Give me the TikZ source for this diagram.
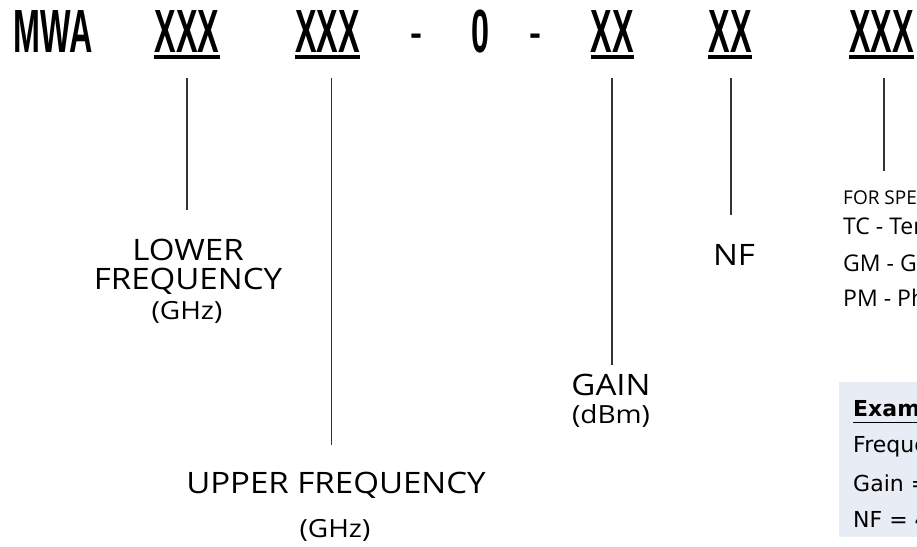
\documentclass[tikz,border=0pt]{standalone}
\usepackage{fontspec}
\setmainfont{Open Sans}
\newfontfamily\lblfont[FakeStretch=1.12]{Open Sans}
\newfontfamily\hdrfont[FakeStretch=0.53]{Liberation Sans Bold}
\newfontfamily\dashfont{Liberation Sans Bold}
\newfontfamily\boxfont{DejaVu Sans}
\definecolor{boxbg}{HTML}{E8ECF5}
\definecolor{linec}{HTML}{333333}
\begin{document}
\begin{tikzpicture}[x=1pt,y=-1pt,
  hdr/.style={font=\hdrfont\fontsize{61}{61}\selectfont, inner sep=0pt, anchor=base},
  hdash/.style={font=\dashfont\fontsize{36}{36}\selectfont, inner sep=0pt, anchor=base},
  uline/.style={line width=3.5pt, black},
  conn/.style={line width=1.3pt, linec},
  lbl/.style={font=\lblfont\fontsize{29.5}{29}\selectfont, inner sep=0pt, align=center},
  sub/.style={font=\lblfont\fontsize{25}{29}\selectfont, inner sep=0pt},
  opt/.style={font=\fontsize{23}{26}\selectfont, inner sep=0pt, anchor=west},
  ex/.style={font=\boxfont\fontsize{22}{24}\selectfont, inner sep=0pt, anchor=west}]
\useasboundingbox (0,0) rectangle (917,546);
\clip (0,0) rectangle (917,546);
% header
\node[hdr] (mwa) at (53.5,52) {MWA};
\node[hdr] (x1) at (187,52) {XXX};
\node[hdr] (x2) at (327.5,52) {XXX};
\node[hdash] (d1) at (416,45) {-};
\node[hdr] (zero) at (480.5,52) {0};
\node[hdash] (d2) at (535,45) {-};
\node[hdr] (x3) at (612.5,52) {XX};
\node[hdr] (x4) at (730,52) {XX};
\node[hdr] (x5) at (881.5,52) {XXX};
\foreach \n in {x1,x2,x3,x4,x5}
  \draw[uline] ([yshift=-5pt]\n.base west) -- ([yshift=-5pt]\n.base east);
% labels
\node[lbl] (lower) at (188,267) {LOWER\\FREQUENCY};
\node[sub] (lghz) at (187,312) {(GHz)};
\node[lbl] (upper) at (336,485) {UPPER FREQUENCY};
\node[sub] (ughz) at (335,530) {(GHz)};
\node[lbl] (gain) at (611,385) {GAIN};
\node[sub] (dbm) at (611,416) {(dBm)};
\node[lbl] (nf) at (734,255) {NF};
\node[font=\fontsize{19}{22}\selectfont, inner sep=0pt, anchor=west] (spec) at (843,198) {FOR SPECIAL OPTIONS};
\node[opt] (tc) at (843,229) {TC - Temperature Compensated};
\node[opt] (gm) at (843,263) {GM - Gain Matched};
\node[opt] (pm) at (843,298) {PM - Phase Matched};
% connectors
\coordinate (t1) at (187,78); \coordinate (b1) at (187,210);
\coordinate (t2) at (331.5,78); \coordinate (b2) at (331.5,445);
\coordinate (t3) at (612,78); \coordinate (b3) at (612,365);
\coordinate (t4) at (731,78); \coordinate (b4) at (731,215);
\coordinate (t5) at (884,78); \coordinate (b5) at (884,171);
\foreach \i in {1,...,5} \draw[conn] (t\i) -- (b\i);
% example box
\node[fill=boxbg, minimum width=200pt, minimum height=155pt, anchor=north west, inner sep=0pt] (exbox) at (839,382) {};
\node[ex] (ext) at (853,411) {\textbf{\underline{Example}}};
\node[ex] (exf) at (853,447) {Frequency = 2 -- 18 GHz};
\node[ex] (exg) at (853,483) {Gain = 30 dBm};
\node[ex] (exn) at (853,519) {NF = 4 dB};
\end{tikzpicture}
\end{document}
